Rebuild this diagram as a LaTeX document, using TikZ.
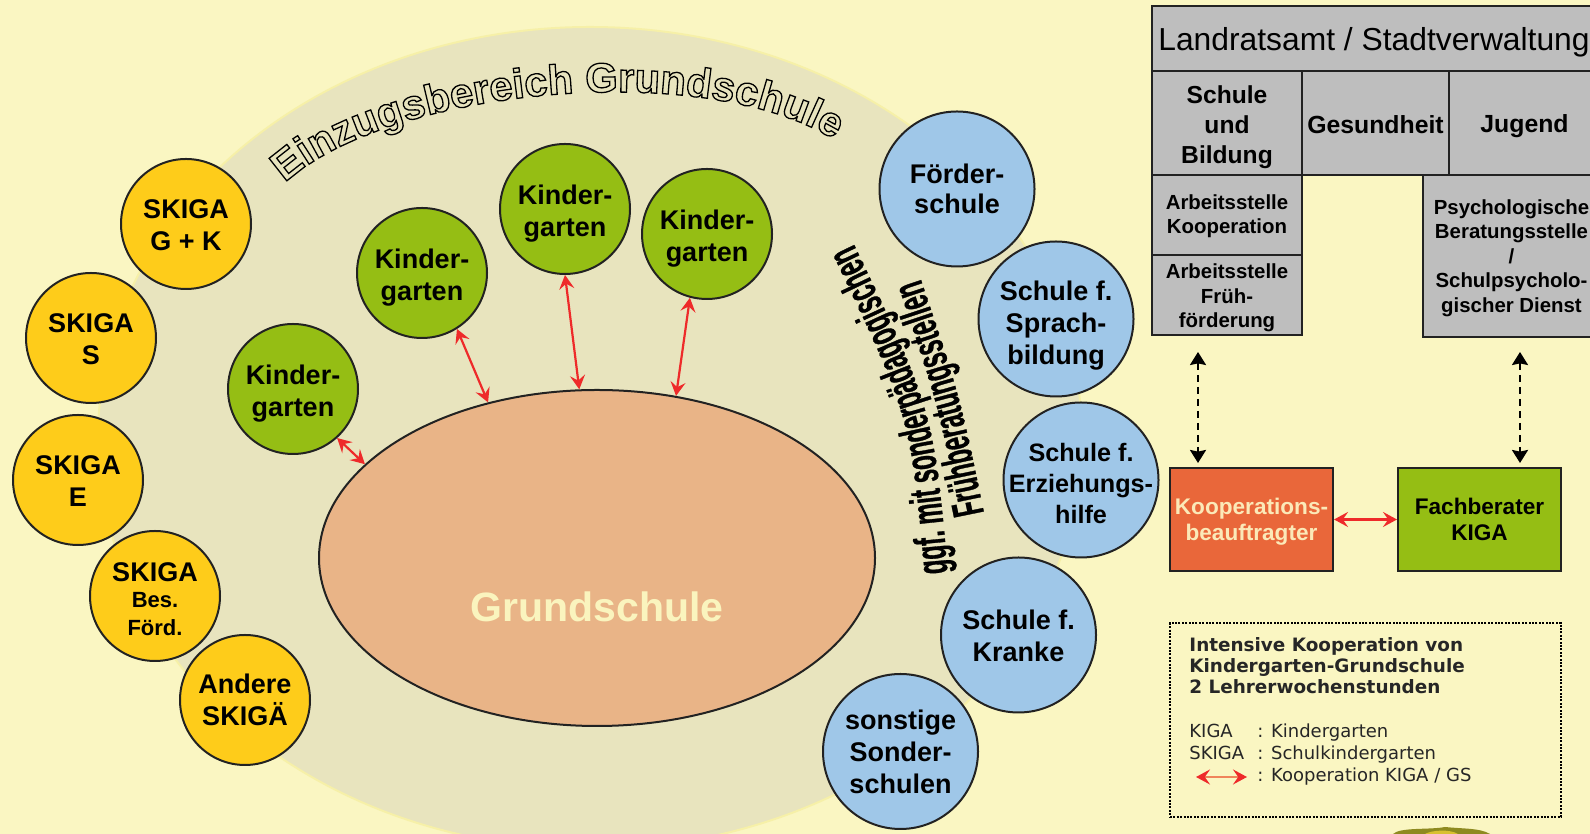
\documentclass[tikz,border=0pt]{standalone}
\usepackage{fontspec}
\setmainfont{Liberation Sans}
\newfontfamily\verdanalike{DejaVu Sans}
\newfontfamily\condfont[FakeStretch=0.54]{Liberation Sans}
\usetikzlibrary{arrows.meta,decorations.text,shapes.geometric}
\definecolor{pagebg}{HTML}{FAF6C2}
\definecolor{zonebg}{HTML}{E8E4BE}
\definecolor{zoneedge}{HTML}{F6F0A8}
\definecolor{skyellow}{HTML}{FECC1A}
\definecolor{kggreen}{HTML}{95BE14}
\definecolor{schblue}{HTML}{9FC7E8}
\definecolor{gssalmon}{HTML}{E9B487}
\definecolor{gstext}{HTML}{FAF4BE}
\definecolor{koorange}{HTML}{E9673A}
\definecolor{kotext}{HTML}{FBE9B8}
\definecolor{boxgrey}{HTML}{BEBEBE}
\definecolor{inkline}{HTML}{222222}
\definecolor{redarrow}{HTML}{EE2A2A}
\definecolor{redshaft}{HTML}{F0845A}
\definecolor{emblem}{HTML}{8E8A20}
\definecolor{emblemb}{HTML}{D8C030}
\newcommand\fs[2]{\fontsize{#1}{#2}\selectfont}
\newcommand\outl{\special{pdf:code 1 Tr 0.65 w}}
\newcommand\heavy{\special{pdf:code 2 Tr 0.15 w}}
\newcommand\tl[1]{\rule{0pt}{#1pt}}
\tikzset{
 disc/.style={circle,draw=inkline,line width=1pt,inner sep=0pt,align=center,font=\fs{13.5}{16}\bfseries},
 skdisc/.style={disc,fill=skyellow,minimum size=65pt},
 kgdisc/.style={disc,fill=kggreen,minimum size=65pt},
 bldisc/.style={disc,fill=schblue,minimum size=77.5pt},
 greybox/.style={rectangle,draw=inkline,line width=1pt,fill=boxgrey,inner sep=0pt,align=center},
 colbox/.style={rectangle,draw=inkline,line width=1pt,inner sep=0pt,align=center,minimum width=81.5pt,minimum height=51.5pt,font=\fs{11.3}{13}\bfseries},
 redboth/.style={draw=redarrow,line width=1.1pt,{Stealth[length=7pt,width=7.5pt,inset=2.6pt]}-{Stealth[length=7pt,width=7.5pt,inset=2.6pt]}},
 blackboth/.style={draw=black,line width=1.1pt,dash pattern=on 3.5pt off 2.5pt,{Stealth[length=6.5pt,width=8pt,inset=0.8pt]}-{Stealth[length=6.5pt,width=8pt,inset=0.8pt]}},
 legendtxt/.style={inner sep=0pt,anchor=base west,text=black!85}
}
\begin{document}
\begin{tikzpicture}[x=0.5pt,y=0.5pt]
\useasboundingbox (0,0) rectangle (1590,834);
\clip (0,0) rectangle (1590,834);
\fill[pagebg] (0,0) rectangle (1590,834);
% catchment zone
\draw[fill=zonebg,draw=zoneedge,line width=1pt] (590,834-438) ellipse [x radius=492,y radius=411];
% zone titles
\path[decorate,decoration={text along path,text={|\fs{20.8}{22}\bfseries\outl|Einzugsbereich Grundschule}}]
 (285,834-183) .. controls (395,834-80) and (770,834-50) .. (870,834-170);
\path[decorate,decoration={text along path,text={|\condfont\fs{22}{22}\bfseries\heavy|ggf. mit sonderpädagogischen}}]
 (948,834-573) .. controls (933,834-409) .. (848,834-232);
\path[decorate,decoration={text along path,text={|\condfont\fs{22}{22}\bfseries\heavy|Frühberatungsstellen}}]
 (984,834-513) .. controls (960,834-396) .. (915,834-262);
% Grundschule
\node[ellipse,draw=inkline,line width=1pt,fill=gssalmon,inner sep=0pt,minimum width=278pt,minimum height=168pt] (gs) at (597,834-558) {};
\node[text=gstext,font=\fs{20.5}{24}\bfseries,inner sep=0pt] (gslabel) at (597,834-607) {Grundschule};
% SKIGA
\node[skdisc] (sk1) at (186,834-224) {\tl{11}SKIGA\\G + K};
\node[skdisc] (sk2) at (91,834-338) {\tl{11}SKIGA\\S};
\node[skdisc] (sk3) at (78,834-480) {\tl{11}SKIGA\\E};
\node[skdisc] (sk4) at (155,834-596) {\tl{13}SKIGA\\[-3pt]{\fs{11}{14}Bes.}\\[-2pt]{\fs{11}{14}Förd.}};
\node[skdisc] (sk5) at (245,834-700) {Andere\\SKIGÄ};
% Kindergarten
\node[kgdisc] (kg1) at (293,834-389) {\tl{14}Kinder-\\garten};
\node[kgdisc] (kg2) at (422,834-273) {\tl{14}Kinder-\\garten};
\node[kgdisc] (kg3) at (565,834-209) {\tl{14}Kinder-\\garten};
\node[kgdisc] (kg4) at (707,834-234) {\tl{14}Kinder-\\garten};
% Schools
\node[bldisc,font=\fs{13.5}{15}\bfseries] (bl1) at (957,834-189) {Förder-\\schule};
\node[bldisc] (bl2) at (1056,834-319) {\tl{16}Schule f.\\Sprach-\\bildung};
\node[bldisc,font=\fs{12.6}{15.5}\bfseries,inner sep=-6pt] (bl3) at (1081,834-480) {\tl{13}Schule f.\\Erziehungs-\\hilfe};
\node[bldisc] (bl4) at (1018.5,834-635) {\tl{11}Schule f.\\Kranke};
\node[bldisc] (bl5) at (900.5,834-751.5) {sonstige\\Sonder-\\schulen};
% red links
\draw[redboth] (kg1.-48) -- (gs.158);
\draw[redboth] (kg2.-58) -- (gs.125.5);
\draw[redboth] (kg3.-90) -- (gs.96.7);
\draw[redboth] (kg4.-105) -- (gs.64.4);
% administration
\node[greybox,minimum width=222pt,minimum height=32.5pt,font=\fs{15.9}{18}] (amt) at (1374,834-38.5) {\tl{15}Landratsamt / Stadtverwaltung};
\node[greybox,minimum width=75pt,minimum height=52pt,font=\fs{12.3}{15}\bfseries] (sch) at (1227,834-123) {\tl{13}Schule\\und\\Bildung};
\node[greybox,minimum width=73.5pt,minimum height=52pt,font=\fs{12.4}{15}\bfseries] (ges) at (1375.5,834-123) {\tl{11}Gesundheit};
\node[greybox,minimum width=75.5pt,minimum height=52pt,font=\fs{12.4}{15}\bfseries] (jug) at (1524.5,834-123) {\tl{12}Jugend};
\node[greybox,minimum width=75pt,minimum height=40pt,font=\fs{10.2}{12}\bfseries] (ab1) at (1227,834-215) {\tl{9}Arbeitsstelle\\Kooperation};
\node[greybox,minimum width=75pt,minimum height=40pt,font=\fs{10.2}{12.2}\bfseries] (ab2) at (1227,834-295) {\tl{10.5}Arbeitsstelle\\Früh-\\förderung};
\node[greybox,minimum width=88.5pt,minimum height=81pt,font=\fs{10.2}{12.2}\bfseries] (psy) at (1511.5,834-256) {\tl{9.5}Psychologische\\Beratungsstelle\\/\\Schulpsycholo-\\gischer Dienst};
% coordinators
\node[colbox,fill=koorange,text=kotext] (koo) at (1251.5,834-519.5) {\tl{10.5}Kooperations-\\beauftragter};
\node[colbox,fill=kggreen] (fach) at (1479.5,834-519.5) {Fachberater\\KIGA};
\draw[redboth] (koo) -- (fach);
\coordinate (d1a) at (1198,834-352);
\coordinate (d1b) at (1198,834-463);
\coordinate (d2a) at (1520,834-352);
\coordinate (d2b) at (1520,834-463);
\draw[blackboth] (d1a) -- (d1b);
\draw[blackboth] (d2a) -- (d2b);
% legend
\node[draw=black,line width=1pt,dash pattern=on 1pt off 0.7pt,minimum width=195.5pt,minimum height=97pt,inner sep=0pt] (legbox) at (1365.5,834-720) {};
\node[legendtxt,align=left,anchor=west,font=\verdanalike\fs{9.2}{10.5}\bfseries] (legtitle) at (1189,834-666) {Intensive Kooperation von\\Kindergarten-Grundschule\\2 Lehrerwochenstunden};
\node[legendtxt,font=\verdanalike\fs{9}{11}] (l1a) at (1189,834-738) {KIGA};
\node[legendtxt,font=\verdanalike\fs{9}{11}] (l1b) at (1257,834-738) {: Kindergarten};
\node[legendtxt,font=\verdanalike\fs{9}{11}] (l2a) at (1189,834-760) {SKIGA};
\node[legendtxt,font=\verdanalike\fs{9}{11}] (l2b) at (1257,834-760) {: Schulkindergarten};
\node[legendtxt,font=\verdanalike\fs{9}{11}] (l3b) at (1257,834-782) {: Kooperation KIGA / GS};
\coordinate (la) at (1196,834-777);
\coordinate (lb) at (1247,834-777);
\draw[redboth,draw=redshaft,{Stealth[length=7pt,width=7.5pt,inset=2.6pt,color=redarrow]}-{Stealth[length=7pt,width=7.5pt,inset=2.6pt,color=redarrow]}] (la) -- (lb);
% clipped emblem at the lower edge
\fill[emblem] (1393,834-834) .. controls (1400,834-827) and (1430,834-830) .. (1445,834-827) .. controls (1465,834-829) and (1480,834-828) .. (1490,834-834) -- cycle;
\fill[emblemb] (1425,834-834) .. controls (1432,834-830) and (1450,834-829) .. (1458,834-834) -- cycle;
\end{tikzpicture}
\end{document}
